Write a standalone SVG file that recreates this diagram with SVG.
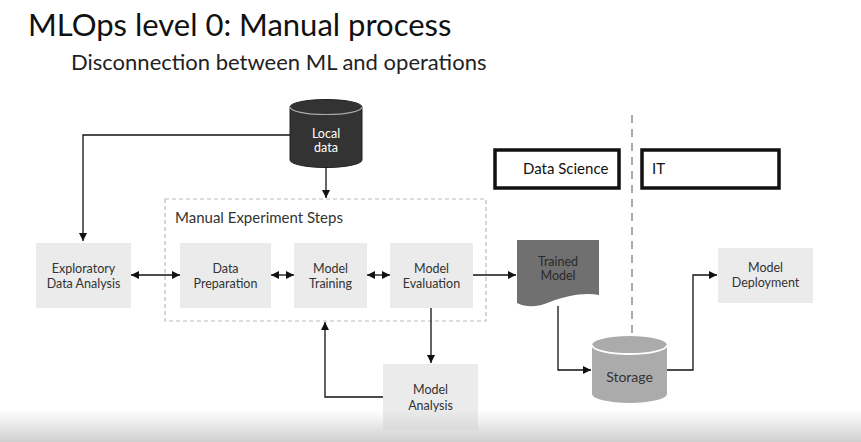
<svg xmlns="http://www.w3.org/2000/svg" width="861" height="442" viewBox="0 0 861 442">
<defs>
<style>
.t{font-family:Lato,"Open Sans","Liberation Sans",sans-serif;fill:#333;}
.lbl{font-size:12.5px;text-anchor:middle;}
.box{fill:#ebebeb;}
.ln{fill:none;stroke:#111;stroke-width:1.3;}
.hdr{fill:#fff;stroke:#111;stroke-width:3.5;}
</style>
<marker id="ah" viewBox="0 0 10 10" refX="10" refY="5" markerWidth="8" markerHeight="8" markerUnits="userSpaceOnUse" orient="auto-start-reverse">
<path d="M0,0 L10,5 L0,10 z" fill="#111"/>
</marker>
<linearGradient id="fade" x1="0" y1="0" x2="0" y2="1">
<stop offset="0" stop-color="#cfcfcf" stop-opacity="0"/>
<stop offset="1" stop-color="#cfcfcf" stop-opacity="1"/>
</linearGradient>
</defs>
<rect width="861" height="442" fill="#fff"/>

<text class="t" x="28" y="36" font-size="31" style="fill:#111">MLOps level 0: Manual process</text>
<text class="t" x="71" y="70" font-size="22" style="fill:#222">Disconnection between ML and operations</text>

<g id="separator">
<line x1="632" y1="115" x2="632" y2="334" stroke="#aaa" stroke-width="2" stroke-dasharray="8,6"/>
</g>

<g id="data-science">
<rect class="hdr" x="495" y="150" width="124" height="38"/>
<text class="t" x="523" y="174" font-size="15" style="fill:#111">Data Science</text>
</g>
<g id="it">
<rect class="hdr" x="642" y="150" width="137" height="38"/>
<text class="t" x="652" y="174" font-size="15" style="fill:#111">IT</text>
</g>

<g id="manual-steps">
<rect x="165" y="199" width="321" height="122" fill="none" stroke="#bbb" stroke-width="1.2" stroke-dasharray="4,3"/>
<text class="t" x="175" y="223" font-size="15">Manual Experiment Steps</text>
</g>

<g id="local-data">
<path d="M290,107 A36,7.5 0 0 1 362,107 V160 A36,7.5 0 0 1 290,160 Z" fill="#333" stroke="#222" stroke-width="1"/>
<path d="M290,107 A36,7.5 0 0 0 362,107" fill="none" stroke="#aaa" stroke-width="1.2"/>
<text class="t lbl" x="326" y="138" style="fill:#fff">Local</text>
<text class="t lbl" x="326" y="152" style="fill:#fff">data</text>
</g>

<g id="eda">
<rect class="box" x="36" y="243" width="95" height="65"/>
<text class="t lbl" x="83.5" y="273">Exploratory</text>
<text class="t lbl" x="83.5" y="288">Data Analysis</text>
</g>
<g id="data-prep">
<rect class="box" x="180" y="243" width="91" height="65"/>
<text class="t lbl" x="225.5" y="273">Data</text>
<text class="t lbl" x="225.5" y="288">Preparation</text>
</g>
<g id="model-training">
<rect class="box" x="294" y="243" width="73" height="65"/>
<text class="t lbl" x="330.5" y="273">Model</text>
<text class="t lbl" x="330.5" y="288">Training</text>
</g>
<g id="model-evaluation">
<rect class="box" x="390" y="243" width="83" height="65"/>
<text class="t lbl" x="431.5" y="273">Model</text>
<text class="t lbl" x="431.5" y="288">Evaluation</text>
</g>

<g id="trained-model">
<path d="M517,240 H599 V295 C585,292 565,296 550,302 C538,307 527,308 517,303 Z" fill="#707070"/>
<text class="t lbl" x="558" y="266" style="fill:#2a2a2a">Trained</text>
<text class="t lbl" x="558" y="280" style="fill:#2a2a2a">Model</text>
</g>

<g id="storage">
<path d="M592,345 A37.5,9 0 0 1 667,345 V394 A37.5,9 0 0 1 592,394 Z" fill="#ababab"/>
<path d="M592,345 A37.5,9 0 0 0 667,345" fill="none" stroke="#fff" stroke-width="1.8"/>
<text class="t" x="629.5" y="382" font-size="14" text-anchor="middle">Storage</text>
</g>

<g id="model-deployment">
<rect class="box" x="718" y="248" width="95" height="55"/>
<text class="t lbl" x="765.5" y="272">Model</text>
<text class="t lbl" x="765.5" y="287">Deployment</text>
</g>

<g id="model-analysis">
<rect class="box" x="383" y="364" width="95" height="66"/>
<text class="t lbl" x="430.5" y="394">Model</text>
<text class="t lbl" x="430.5" y="410">Analysis</text>
</g>

<g id="connectors">
<polyline class="ln" points="290,135 83,135 83,241" marker-end="url(#ah)"/>
<line class="ln" x1="326" y1="167" x2="326" y2="198" marker-end="url(#ah)"/>
<line class="ln" x1="131" y1="275" x2="180" y2="275" marker-start="url(#ah)" marker-end="url(#ah)"/>
<line class="ln" x1="271" y1="275" x2="294" y2="275" marker-start="url(#ah)" marker-end="url(#ah)"/>
<line class="ln" x1="367" y1="275" x2="390" y2="275" marker-start="url(#ah)" marker-end="url(#ah)"/>
<line class="ln" x1="473" y1="275" x2="516" y2="275" marker-end="url(#ah)"/>
<line class="ln" x1="431" y1="308" x2="431" y2="363" marker-end="url(#ah)"/>
<polyline class="ln" points="383,397 325,397 325,322" marker-end="url(#ah)"/>
<polyline class="ln" points="558,306 558,370 591,370" marker-end="url(#ah)"/>
<polyline class="ln" points="667,370 693,370 693,275 717,275" marker-end="url(#ah)"/>
</g>

<rect x="0" y="410" width="861" height="32" fill="url(#fade)"/>
</svg>
